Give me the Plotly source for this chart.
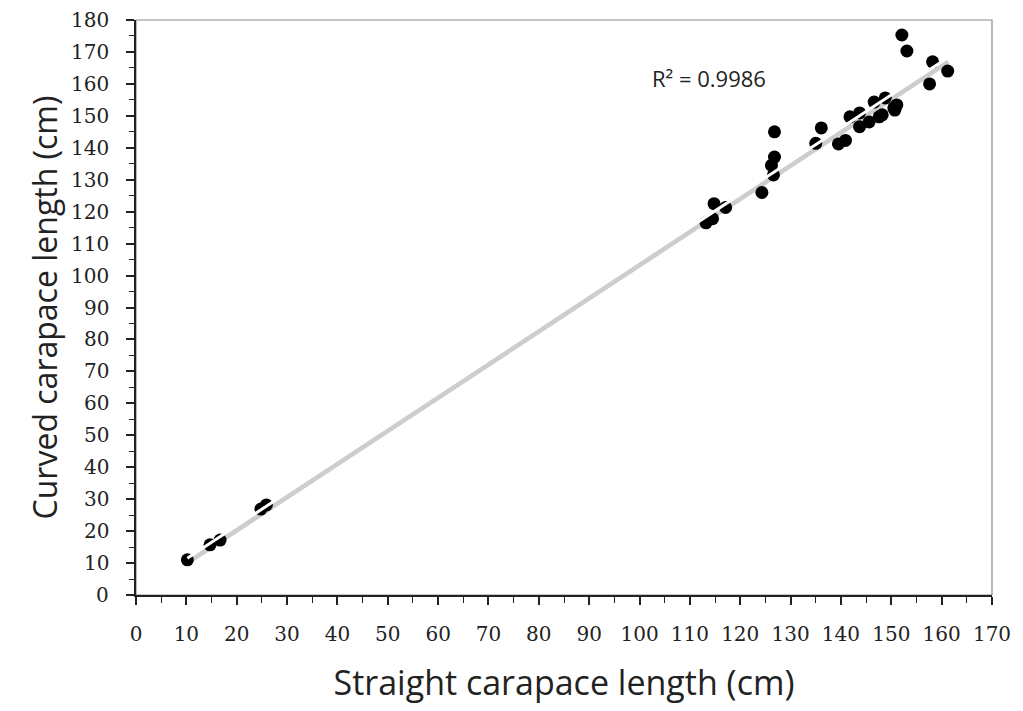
import numpy as np
import plotly.graph_objects as go

# Straight carapace length (cm)
scl = [10.2, 14.7, 16.7, 24.8, 25.9,
       113.2, 114.5, 114.8, 117.1, 124.3,
       126.6, 126.2, 126.8, 126.8, 135.0, 136.1,
       139.5, 140.9, 141.8, 143.7, 143.7, 145.6, 146.6, 147.6, 148.2, 148.8,
       150.5, 150.7, 151.1, 152.1, 153.1, 157.6, 158.2, 161.2]
# Curved carapace length (cm)
ccl = [11.0, 15.7, 17.2, 26.9, 28.2,
       116.5, 117.8, 122.5, 121.3, 126.0,
       131.5, 134.5, 137.1, 145.0, 141.4, 146.2,
       141.2, 142.3, 149.7, 150.9, 146.6, 148.1, 154.3, 149.7, 150.3, 155.6,
       152.5, 151.8, 153.4, 175.3, 170.3, 160.0, 166.9, 164.0]

x_ticks = list(range(0, 171, 10))
y_ticks = list(range(0, 181, 10))
r2_label = "R² = 0.9986"

slope, intercept = np.polyfit(scl, ccl, 1)
fx = np.array([min(scl), max(scl)])
fy = slope * fx + intercept

fig = go.Figure()
# trendline shadow
fig.add_trace(go.Scatter(x=fx, y=fy - 1.0, mode="lines",
                         line=dict(color="#cdcdcd", width=7),
                         hoverinfo="skip", showlegend=False))
fig.add_trace(go.Scatter(x=scl, y=ccl, mode="markers",
                         marker=dict(color="black", size=13),
                         showlegend=False))
# trendline (white core)
fig.add_trace(go.Scatter(x=fx, y=fy, mode="lines",
                         line=dict(color="white", width=3),
                         hoverinfo="skip", showlegend=False))

tickfont = dict(family="DejaVu Serif", size=20, color="#222222")

# y tick labels as annotations (placed a little further from the axis)
ytick_annotations = [dict(text=str(v), x=-0.029, y=v, xref="paper", yref="y",
                          xanchor="right", yanchor="middle", showarrow=False,
                          font=tickfont) for v in y_ticks]

fig.update_layout(
    width=1023, height=711,
    margin=dict(l=136, r=22, t=20, b=116),
    paper_bgcolor="white", plot_bgcolor="white",
    xaxis=dict(range=[0, 170], tickvals=x_ticks, ticktext=[str(v) for v in x_ticks],
               showgrid=False, zeroline=False, showline=True, linecolor="#222",
               linewidth=1.5, ticks="outside", ticklen=8, tickwidth=1.5, tickcolor="#222",
               minor=dict(dtick=5, tick0=0, ticks="outside", ticklen=6, tickwidth=1.2, tickcolor="#222"),
               tickfont=tickfont, ticklabelstandoff=12,
               title=dict(text="Straight carapace length (cm)",
                          font=dict(family="Open Sans", size=34, color="#222222"), standoff=26)),
    yaxis=dict(range=[0, 180], tickvals=y_ticks, showticklabels=False,
               showgrid=False, zeroline=False, showline=True, linecolor="#222",
               linewidth=1.5, ticks="outside", ticklen=8, tickwidth=1.5, tickcolor="#222",
               minor=dict(dtick=5, tick0=0, ticks="outside", ticklen=5, tickwidth=1.2, tickcolor="#222"),
               title=dict(text="Curved carapace length (cm)",
                          font=dict(family="Open Sans", size=32, color="#222222"), standoff=59)),
    shapes=[dict(type="rect", xref="x domain", yref="y domain", x0=0, y0=0, x1=1, y1=1,
                 line=dict(color="#8a8a8a", width=1.2), layer="below")],
    annotations=ytick_annotations + [
        dict(text=r2_label, x=102, y=162, xref="x", yref="y", xanchor="left",
             showarrow=False, font=dict(family="Open Sans", size=22, color="#222"))],
)

fig.write_html("out.html")
